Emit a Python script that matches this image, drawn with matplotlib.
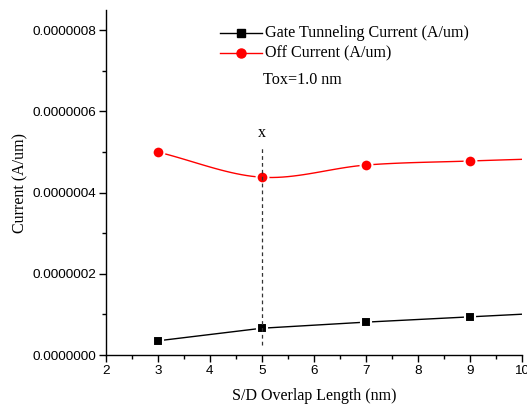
#!/usr/bin/env python3
"""Gate tunneling vs off current against S/D overlap length (Tox = 1.0 nm)."""

import numpy as np
import matplotlib
matplotlib.use('Agg')
import matplotlib.pyplot as plt
from matplotlib.ticker import MultipleLocator, FormatStrFormatter

# Data
overlap_nm = [3, 5, 7, 9, 11]
gate_current = [3.5e-8, 6.6e-8, 8.1e-8, 9.4e-8, 1.07e-7]
off_current = [5.0e-7, 4.38e-7, 4.68e-7, 4.78e-7, 4.86e-7]
marker_x = [3, 5, 7, 9]

SERIF = 'Liberation Serif'
SANS = 'Liberation Sans'


def smooth(x, y, n=20):
    """Catmull-Rom curve through the points, for Origin-like spline lines."""
    x = np.asarray(x, float)
    y = np.asarray(y, float)
    px = np.concatenate([[2 * x[0] - x[1]], x, [2 * x[-1] - x[-2]]])
    py = np.concatenate([[2 * y[0] - y[1]], y, [2 * y[-1] - y[-2]]])
    xs, ys = [], []
    t = np.linspace(0, 1, n, endpoint=False)
    for i in range(1, len(px) - 2):
        for p, out in ((px, xs), (py, ys)):
            p0, p1, p2, p3 = p[i - 1], p[i], p[i + 1], p[i + 2]
            out.extend(0.5 * (2 * p1 + (-p0 + p2) * t
                              + (2 * p0 - 5 * p1 + 4 * p2 - p3) * t ** 2
                              + (-p0 + 3 * p1 - 3 * p2 + p3) * t ** 3))
    xs.append(x[-1])
    ys.append(y[-1])
    return np.array(xs), np.array(ys)


def main():
    fig = plt.figure(figsize=(5.27, 4.09), dpi=100)
    ax = fig.add_axes([0.2011, 0.132, 0.789, 0.8435])

    n_mark = len(marker_x)

    # gate tunneling current: straight segments, black squares
    ax.plot(overlap_nm, gate_current, '-', color='black', lw=1.0, zorder=2)
    ax.plot(marker_x, gate_current[:n_mark], 's', color='black', ms=7.5,
            mec='white', mew=1.5, zorder=3)

    # off current: smoothed line, red circles
    sx, sy = smooth(overlap_nm, off_current)
    ax.plot(sx, sy, '-', color='red', lw=1.0, zorder=2)
    ax.plot(marker_x, off_current[:n_mark], 'o', color='red', ms=8.5,
            mec='white', mew=1.5, zorder=3)

    # marker line at 5 nm
    ax.plot([5, 5], [2.5e-8, 5.12e-7], '--', color='#333333', lw=0.9,
            dashes=(3, 2.5), zorder=4)
    ax.text(5, 5.46e-7, 'x', ha='center', va='center', fontsize=11.5,
            family=SERIF)

    # legend drawn by hand to keep Origin look
    lx0, lx1 = 4.19, 5.0
    for yy, col, mk, ms, label in ((7.93e-7, 'black', 's', 5.5,
                                    'Gate Tunneling Current (A/um)'),
                                   (7.43e-7, 'red', 'o', 6.5,
                                    'Off Current (A/um)')):
        ax.plot([lx0, lx1], [yy, yy], '-', color=col, lw=1.0, clip_on=False)
        ax.plot([(lx0 + lx1) / 2], [yy], mk, color=col, ms=ms, clip_on=False)
        ax.text(5.06, yy, label, ha='left', va='center', fontsize=11.6,
                family=SERIF)
    ax.text(5.02, 6.77e-7, 'Tox=1.0 nm', ha='left', va='center',
            fontsize=11.6, family=SERIF)

    ax.set_xlim(2, 10)
    ax.set_ylim(0, 8.5e-7)
    ax.xaxis.set_major_locator(MultipleLocator(1))
    ax.xaxis.set_minor_locator(MultipleLocator(0.5))
    ax.yaxis.set_major_locator(MultipleLocator(2e-7))
    ax.yaxis.set_minor_locator(MultipleLocator(1e-7))
    ax.yaxis.set_major_formatter(FormatStrFormatter('%.7f'))

    for side in ('top', 'right'):
        ax.spines[side].set_visible(False)
    for side in ('left', 'bottom'):
        ax.spines[side].set_linewidth(1.0)

    ax.tick_params(which='major', direction='out', length=5, width=1.0,
                   labelsize=9.7, pad=2)
    ax.tick_params(which='minor', direction='out', length=3, width=1.0)
    for lab in ax.get_xticklabels() + ax.get_yticklabels():
        lab.set_family(SANS)

    ax.set_xlabel('S/D Overlap Length (nm)', fontsize=11.5, family=SERIF,
                  labelpad=8)
    ax.set_ylabel('Current (A/um)', fontsize=11.5, family=SERIF, labelpad=3)

    fig.savefig('out.png', dpi=100, facecolor='white')
    plt.close(fig)


if __name__ == "__main__":
    main()
